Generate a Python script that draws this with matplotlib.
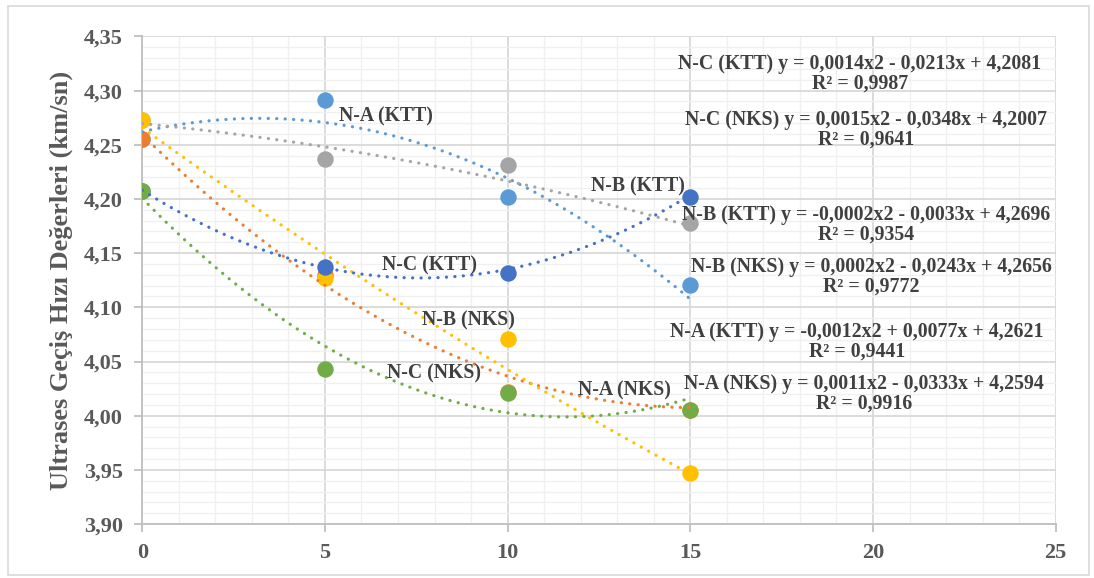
import numpy as np
import matplotlib
matplotlib.use('Agg')
import matplotlib.pyplot as plt
from matplotlib.patches import Rectangle

plt.rcParams['font.family'] = ['Liberation Serif', 'DejaVu Serif']
plt.rcParams['font.weight'] = 'bold'

x = [0, 5, 10, 15]

# series, in the drawing order of the workbook
names = ['N-A (KTT)', 'N-A (NKS)', 'N-B (KTT)', 'N-B (NKS)', 'N-C (KTT)', 'N-C (NKS)']
na_ktt = [4.2556, 4.2914, 4.2018, 4.1206]
na_nks = [4.2551, 4.1298, 4.0215, 4.0050]
nb_ktt = [4.2725, 4.2369, 4.2314, 4.1780]
nb_nks = [4.2729, 4.1268, 4.0705, 3.9474]
nc_ktt = [4.2075, 4.1375, 4.1320, 4.2015]
nc_nks = [4.2077, 4.0431, 4.0212, 4.0052]
values = [na_ktt, na_nks, nb_ktt, nb_nks, nc_ktt, nc_nks]
colors = ['#5B9BD5', '#ED7D31', '#A5A5A5', '#FFC000', '#4472C4', '#70AD47']

# polynomial trendlines as printed on the chart (a, b, c) and R²
coefs = [
    [-0.0012, 0.0077, 4.2621],
    [0.0011, -0.0333, 4.2594],
    [-0.0002, -0.0033, 4.2696],
    [0.0002, -0.0243, 4.2656],
    [0.0014, -0.0213, 4.2081],
    [0.0015, -0.0348, 4.2007],
]
r2 = ['0,9441', '0,9916', '0,9354', '0,9772', '0,9987', '0,9641']
eq_text = [
    'N-A (KTT) y = -0,0012x2 + 0,0077x + 4,2621',
    'N-A (NKS) y = 0,0011x2 - 0,0333x + 4,2594',
    'N-B (KTT) y = -0,0002x2 - 0,0033x + 4,2696',
    'N-B (NKS) y = 0,0002x2 - 0,0243x + 4,2656',
    'N-C (KTT) y = 0,0014x2 - 0,0213x + 4,2081',
    'N-C (NKS) y = 0,0015x2 - 0,0348x + 4,2007',
]

# where the labels sit (data coords)
name_pos = [(6.67, 4.2766), (13.21, 4.0228), (13.57, 4.212),
            (8.92, 4.0874), (7.85, 4.139), (7.99, 4.0394)]
eq_pos = [(19.56, 4.068), (19.75, 4.020), (19.81, 4.176),
          (19.95, 4.128), (19.64, 4.3154), (19.81, 4.2637)]

fig = plt.figure(figsize=(10.94, 5.78), dpi=100)
ax = fig.add_axes([0.13, 0.0934, 0.835, 0.8435])

xx = np.linspace(0, 15, 200)
for i in range(len(names)):
    ax.scatter(x, values[i], s=140, color=colors[i], zorder=3 + i * 0.1,
               linewidths=0)
for i in range(len(names)):
    ax.plot(xx, np.polyval(coefs[i], xx), color=colors[i], lw=2.3,
            linestyle=(0, (0.05, 2.6)), dash_capstyle='round', zorder=4)

lab_col = '#404040'
for i in range(len(names)):
    ax.text(name_pos[i][0], name_pos[i][1], names[i], ha='center', va='center',
            fontsize=14.2, color=lab_col, fontweight='bold', zorder=6)
    ax.text(eq_pos[i][0], eq_pos[i][1], eq_text[i] + '\nR² = ' + r2[i],
            ha='center', va='center', multialignment='center', fontsize=14.3,
            color=lab_col, fontweight='bold', linespacing=0.95, zorder=6)

ax.set_xlim(0, 25)
ax.set_ylim(3.90, 4.35)
ax.set_xticks(np.arange(0, 26, 5))
ax.set_xticks(np.arange(0, 26, 1), minor=True)
ax.set_yticks(np.arange(3.90, 4.351, 0.05))
ax.set_yticks(np.arange(3.90, 4.351, 0.01), minor=True)
ax.set_yticklabels([('%.2f' % v).replace('.', ',') for v in np.arange(3.90, 4.351, 0.05)])

ax.grid(which='major', color='#D9D9D9', lw=1.3, zorder=0)
ax.grid(which='minor', color='#F0F0F0', lw=1.0, zorder=0)
ax.set_axisbelow(True)

for s in ['top', 'right']:
    ax.spines[s].set_visible(False)
for s in ['left', 'bottom']:
    ax.spines[s].set_color('#BFBFBF')
    ax.spines[s].set_linewidth(1.3)

ax.tick_params(which='major', length=6, width=1.3, color='#BFBFBF',
               labelsize=16, labelcolor='#595959', pad=8)
ax.tick_params(which='minor', length=0)
for t in ax.get_xticklabels() + ax.get_yticklabels():
    t.set_fontweight('bold')

ax.set_ylabel('Ultrases Geçiş Hızı Değerleri (km/sn)', fontsize=19,
              color='#595959', fontweight='bold', labelpad=8)

fig.patches.append(Rectangle((8 / 1094, 3 / 578), 1081 / 1094, 569 / 578,
                             transform=fig.transFigure, fill=False,
                             edgecolor='#D9D9D9', lw=1.2))

fig.savefig('out.png', dpi=100)
